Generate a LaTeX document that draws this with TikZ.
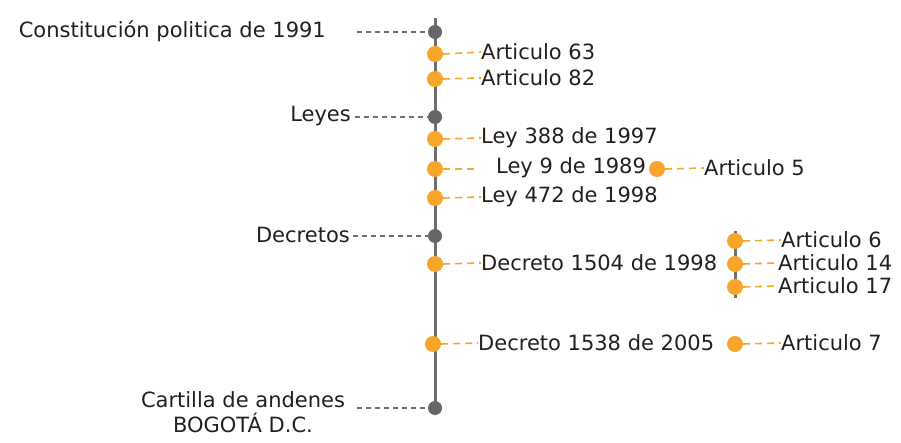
\documentclass[tikz,border=0pt]{standalone}
\usepackage{fontspec}
\setmainfont{DejaVu Sans}
\definecolor{dotgray}{HTML}{666666}
\definecolor{linegray}{HTML}{6E6E6E}
\definecolor{orng}{HTML}{F7A52B}
\definecolor{txt}{HTML}{231F20}
\begin{document}
\begin{tikzpicture}[x=1pt,y=-1pt,
  gdot/.style={circle,fill=dotgray,inner sep=0pt,minimum size=14pt},
  odot/.style={circle,fill=orng,inner sep=0pt,minimum size=16pt},
  lbl/.style={text=txt,font=\fontsize{21}{25}\selectfont,inner sep=0pt},
  gdash/.style={draw=linegray,line width=1.3pt,dash pattern=on 4.5pt off 4.5pt},
  odash/.style={draw=orng,line width=1.6pt,dash pattern=on 7pt off 5pt},
  axis/.style={draw=linegray,line width=3pt}]
\useasboundingbox (0,0) rectangle (901,443);
% main axis
\coordinate (top) at (435,18);
\coordinate (bot) at (435,408);
\draw[axis] (top) -- (bot);
% secondary axis
\coordinate (top2) at (735,231);
\coordinate (bot2) at (735,298);
\draw[axis] (top2) -- (bot2);
% gray dots
\node[gdot] (g1) at (435,32) {};
\node[gdot] (g2) at (435,117) {};
\node[gdot] (g3) at (435,236) {};
\node[gdot] (g4) at (435,408) {};
% gray labels
\node[lbl,anchor=east] (t1) at (326,31) {Constitución politica de 1991};
\node[lbl,anchor=east] (t2) at (351,116) {Leyes};
\node[lbl,anchor=east] (t3) at (350,235) {Decretos};
\node[lbl,align=center] (t4) at (243,412) {Cartilla de andenes\\BOGOTÁ D.C.};
\coordinate (c1) at (357,32);
\coordinate (c2) at (355,117);
\coordinate (c3) at (353,236);
\coordinate (c4) at (357,408);
\draw[gdash] (c1) -- (g1.west);
\draw[gdash] (c2) -- (g2.west);
\draw[gdash] (c3) -- (g3.west);
\draw[gdash] (c4) -- (g4.west);
% orange dots on main axis
\node[odot] (o1) at (435,54) {};
\node[odot] (o2) at (435,79) {};
\node[odot] (o3) at (435,139) {};
\node[odot] (o4) at (435,169) {};
\node[odot] (o5) at (435,198) {};
\node[odot] (o6) at (435,264) {};
\node[odot] (o7) at (433,344) {};
% labels
\node[lbl,anchor=west] (a1) at (481,52) {Articulo 63};
\node[lbl,anchor=west] (a2) at (481,78) {Articulo 82};
\node[lbl,anchor=west] (a3) at (481,138) {Ley 388 de 1997};
\node[lbl,anchor=west] (a4) at (496,168) {Ley 9 de 1989};
\node[lbl,anchor=west] (a5) at (481,197) {Ley 472 de 1998};
\node[lbl,anchor=west] (a6) at (481,263) {Decreto 1504 de 1998};
\node[lbl,anchor=west] (a7) at (478,343) {Decreto 1538 de 2005};
\draw[odash] (o1.east) -- (a1.west);
\draw[odash] (o2.east) -- (a2.west);
\draw[odash] (o3.east) -- (a3.west);
\coordinate (e4) at (476,169);
\draw[odash] (o4.east) -- (e4);
\draw[odash] (o5.east) -- (a5.west);
\draw[odash] (o6.east) -- (a6.west);
\draw[odash] (o7.east) -- (a7.west);
% Ley 9 sub
\node[odot] (p1) at (657,169) {};
\node[lbl,anchor=west] (b1) at (704,168) {Articulo 5};
\draw[odash] (p1.east) -- (b1.west);
% Decreto 1504 sub
\node[odot] (q1) at (735,241) {};
\node[odot] (q2) at (735,264) {};
\node[odot] (q3) at (735,287) {};
\node[lbl,anchor=west] (r1) at (781,240) {Articulo 6};
\node[lbl,anchor=west] (r2) at (778,263) {Articulo 14};
\node[lbl,anchor=west] (r3) at (778,286) {Articulo 17};
\draw[odash] (q1.east) -- (r1.west);
\draw[odash] (q2.east) -- (r2.west);
\draw[odash] (q3.east) -- (r3.west);
% Decreto 1538 sub
\node[odot] (s1) at (735,344) {};
\node[lbl,anchor=west] (u1) at (781,343) {Articulo 7};
\draw[odash] (s1.east) -- (u1.west);
\end{tikzpicture}
\end{document}
